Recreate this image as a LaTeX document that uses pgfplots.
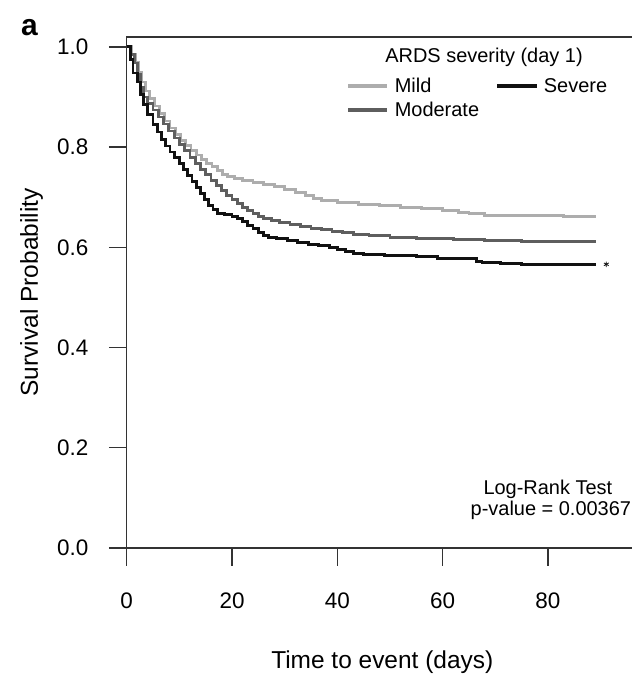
\documentclass[border=0pt]{standalone}
\usepackage{pgfplots}
\pgfplotsset{compat=1.18}
\usepackage{fontspec}
\setmainfont{Liberation Sans}
\definecolor{mildc}{HTML}{ADADAD}
\definecolor{modc}{HTML}{5E5E5E}
\definecolor{sevc}{HTML}{111111}
\definecolor{axc}{HTML}{333333}
\newcommand\tickfont{\fontsize{22.5bp}{27bp}\selectfont}
\newcommand\labfont{\fontsize{24.5bp}{29bp}\selectfont}
\newcommand\smallfont{\fontsize{20bp}{24bp}\selectfont}

\begin{document}
\begin{tikzpicture}
\path (0,0) rectangle (633bp,677bp);
\begin{axis}[
  at={(127bp,128bp)}, anchor=south west,
  scale only axis, width=506bp, height=512bp,
  xmin=0, xmax=95.92, ymin=0, ymax=1.0199,
  axis line style={draw=none},
  extra description/.code={
    \draw[axc, line width=1.4bp] (axis description cs:1,1) -- (axis description cs:0,1)
      -- (axis description cs:0,0) -- (axis description cs:1,0);},
  xtick={0,20,40,60,80}, ytick={0,0.2,0.4,0.6,0.8,1.0},
  xtick pos=left, ytick pos=left,
  tick align=outside, major tick length=18bp,
  tick style={axc, line width=1.4bp},
  /pgf/number format/assume math mode=true,
  tick label style={font=\tickfont},
  xticklabel style={yshift=-24bp},
  yticklabel style={xshift=-17bp, /pgf/number format/fixed, /pgf/number format/fixed zerofill, /pgf/number format/precision=1},
  xlabel={Time to event (days)}, ylabel={Survival Probability},
  every axis x label/.style={at={(axis description cs:0.506,-0.2363)}, anchor=base, font=\labfont},
  every axis y label/.style={at={(axis description cs:-0.176,0.5)}, rotate=90, anchor=base, font=\labfont},
  legend columns=2, legend cell align=left,
  legend image code/.code={\fill[#1] (0bp,-0.8bp) rectangle (39bp,2bp);},
  legend style={draw=none, fill=none, inner sep=0bp, font=\smallfont,
    at={(axis description cs:0.4368,0.92)}, anchor=north west,
    nodes={inner sep=0bp}, row sep=8.4bp,
    /tikz/every odd column/.append style={column sep=8bp},
    /tikz/every even column/.append style={column sep=17.5bp}},
  const plot mark left,
]
% Mild
\addplot[mildc, line width=2.8bp, forget plot] coordinates {
(0,1.0) (1,0.985) (1.6,0.97) (2.2,0.95) (2.8,0.93) (3.5,0.912) (4.3,0.897) (5.2,0.882)
(6.2,0.867) (7.2,0.852) (8.2,0.838) (9.2,0.825) (10.2,0.813) (11.2,0.803) (12.2,0.793)
(13.2,0.784) (14.2,0.776) (15.2,0.768) (16.2,0.761) (17.2,0.753) (18.2,0.746) (19.2,0.741)
(20.5,0.737) (22,0.733) (24,0.729) (26,0.725) (28,0.721) (30,0.716) (32,0.710) (34,0.704)
(35.5,0.698) (37,0.693) (40,0.689) (44,0.686) (48,0.683) (52,0.680) (56,0.677) (60,0.674)
(63,0.670) (65,0.667) (68,0.664) (75,0.663) (83,0.662) (89.2,0.662)};
% Moderate
\addplot[modc, line width=2.8bp, forget plot] coordinates {
(0,1.0) (0.8,0.985) (1.4,0.968) (2,0.945) (2.6,0.92) (3.2,0.9) (4,0.887) (5,0.874)
(6,0.86) (7,0.846) (8,0.832) (9,0.818) (10,0.805) (11,0.793) (12,0.78) (13,0.768)
(14,0.756) (15,0.745) (16,0.734) (17,0.723) (18,0.713) (19,0.704) (20,0.695) (21,0.687)
(22,0.68) (23,0.673) (24,0.667) (25,0.662) (26,0.658) (27.5,0.654) (29,0.650) (31,0.646)
(33,0.642) (35,0.638) (37,0.635) (39,0.632) (41,0.629) (43,0.626) (46,0.623) (50,0.620)
(55,0.617) (62,0.615) (68,0.613) (75,0.612) (89.2,0.612)};
% Severe
\addplot[sevc, line width=2.8bp, forget plot] coordinates {
(0,1.0) (0.7,0.975) (1.2,0.948) (2,0.93) (2.6,0.905) (3.2,0.885) (4,0.865) (5,0.845)
(5.8,0.83) (6.6,0.815) (7.4,0.802) (8.2,0.79) (9,0.78) (10,0.768) (10.8,0.755) (11.6,0.743)
(12.4,0.731) (13.2,0.72) (14,0.708) (14.8,0.695) (15.6,0.684) (16.4,0.675) (17.2,0.668)
(18.5,0.665) (20,0.661) (21,0.657) (22,0.651) (23,0.644) (24,0.637) (25,0.630) (26,0.624)
(27,0.620) (28.5,0.617) (30.5,0.614) (32.5,0.610) (34.5,0.606) (36.5,0.603) (38.5,0.600)
(40,0.596) (41.5,0.592) (43,0.588) (45,0.585) (49,0.583) (55,0.581) (59,0.578) (63,0.577)
(66.5,0.572) (67.5,0.569) (71,0.568) (75,0.566) (89.2,0.566)};
\addplot[only marks, mark=asterisk, mark size=2.8bp, sevc, line width=0.8bp, forget plot] coordinates {(91.1,0.566)};
\addlegendimage{mildc}
\addlegendentry{Mild}
\addlegendimage{sevc}
\addlegendentry{Severe}
\addlegendimage{modc}
\addlegendentry{Moderate}
\end{axis}
\node[anchor=base, font=\smallfont] at (485bp,614bp) {ARDS severity (day 1)};
\node[anchor=base, font=\smallfont] at (549bp,181bp) {Log-Rank Test};
\node[anchor=base, font=\smallfont] at (552bp,160bp) {p-value = 0.00367};
\node[anchor=base west, font=\fontsize{30bp}{30bp}\selectfont\bfseries, inner sep=0pt] at (21bp,641bp) {a};
\end{tikzpicture}
\end{document}
